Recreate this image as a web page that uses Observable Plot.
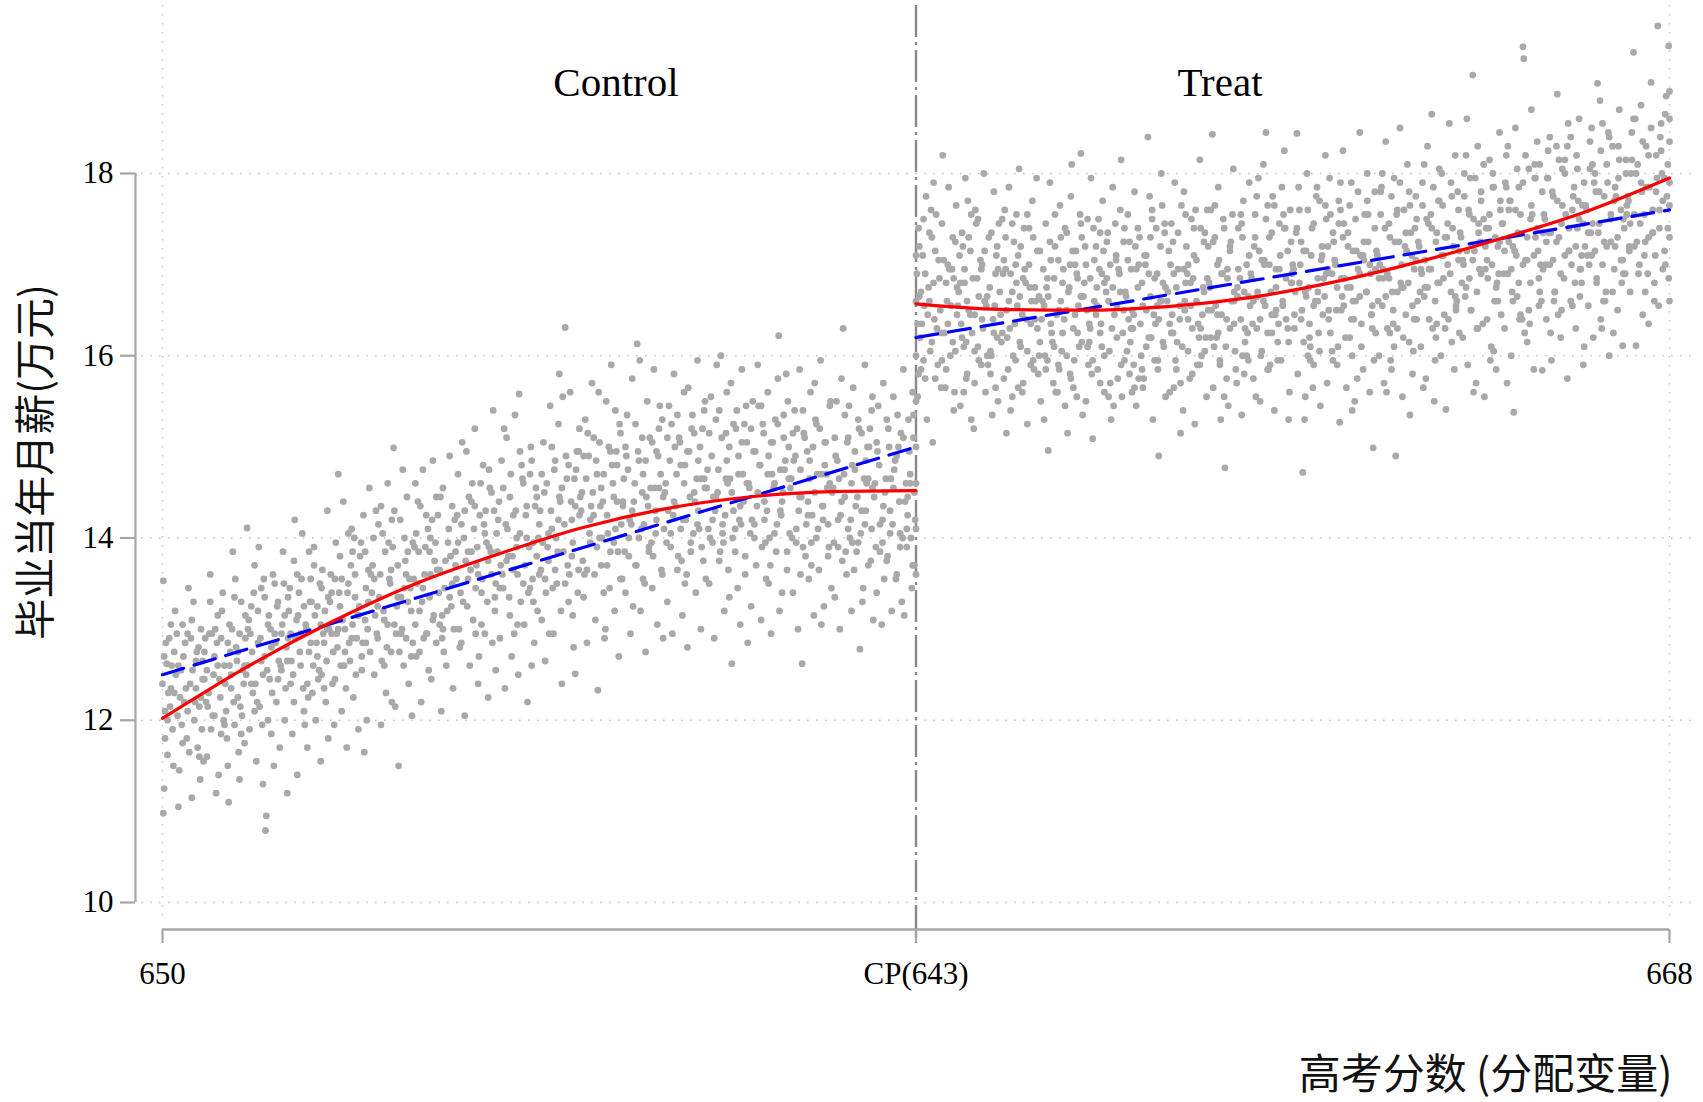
<!DOCTYPE html>
<html>
<head>
<meta charset="utf-8">
<script src="https://cdn.jsdelivr.net/npm/d3@7"></script>
<script src="https://cdn.jsdelivr.net/npm/@observablehq/plot@0.6"></script>
<style>
  html, body { margin: 0; padding: 0; background: #fff; }
  #chart { width: 1703px; height: 1102px; }
</style>
</head>
<body>
<div id="chart"></div>
<script>
// ---- data ----
const xTicks = [650, 659, 668];
const xTickLabels = ["650", "CP(643)", "668"];
const yTicks = [10, 12, 14, 16, 18];
const cutoff = 659;
const groupLabels = ["Control", "Treat"];
const yTitle = "毕业当年月薪(万元)";
const xTitle = "高考分数 (分配变量)";

// red cubic fit (score, salary)
const ctrlFitX = [650, 651, 652, 653, 654, 655, 656, 657, 658, 659];
const ctrlFitY = [12.02, 12.58, 13.07, 13.49, 13.82, 14.11, 14.32, 14.45, 14.51, 14.52];
const treatFitX = [659, 660, 661, 662, 663, 664, 665, 666, 667, 668];
const treatFitY = [16.57, 16.51, 16.5, 16.54, 16.64, 16.81, 17.03, 17.29, 17.58, 17.95];
// blue dashed linear fit
const ctrlLinX = [650, 659];
const ctrlLinY = [12.5, 15.0];
const treatLinX = [659, 668];
const treatLinY = [16.2, 17.6];

// scatter points, flat x,y pairs (outer spread)
const controlPts = [
650.01,13.53,650.01,10.98,650.02,11.25,650.03,12.1,650.05,12.62,650.06,11.62,650.08,12.9,650.1,12.35,650.12,11.9,650.14,12.75,650.15,13.2,650.18,12.05,650.2,11.45,650.22,12.55,650.24,13.05,650.26,12.2,650.29,11.8,650.3,12.95,650.33,12.4,650.35,11.15,650.37,13.3,650.4,12.65,650.42,11.7,650.44,12.15,650.46,13.0,650.48,12.45,650.49,11.55,650.27,12.85,650.16,12.5,650.38,12.0,650.07,12.3,650.45,11.35,650.31,13.45,650.19,11.05,650.41,12.75,
650.51,12.9,650.53,11.6,650.55,12.3,650.57,13.6,650.6,12.05,650.62,12.7,650.64,11.2,650.66,13.15,650.68,12.45,650.7,11.85,650.72,13.4,650.74,12.6,650.76,12.1,650.78,11.5,650.8,13.05,650.82,12.35,650.84,13.85,650.86,11.95,650.88,12.8,650.9,12.25,650.92,11.35,650.94,13.3,650.96,12.55,650.98,11.75,650.59,12.95,650.67,11.4,650.73,12.0,650.81,12.75,650.87,13.55,650.93,12.15,650.99,12.9,650.52,12.2,650.63,13.0,650.79,11.1,650.91,11.65,
651.01,14.11,651.02,12.6,651.04,11.9,651.06,13.25,651.08,12.3,651.1,13.7,651.12,11.55,651.14,12.85,651.16,12.15,651.18,13.45,651.2,11.3,651.22,12.7,651.23,10.79,651.24,10.95,651.26,13.05,651.28,12.45,651.3,11.85,651.32,13.6,651.34,12.95,651.36,12.2,651.38,13.3,651.4,11.7,651.42,12.55,651.44,13.85,651.46,12.0,651.48,12.8,651.05,12.95,651.11,12.4,651.19,11.95,651.27,13.15,651.33,11.5,651.39,12.65,651.45,13.5,651.49,11.2,651.15,13.9,
651.51,13.2,651.53,12.4,651.55,11.85,651.57,13.75,651.59,12.9,651.61,11.4,651.63,13.4,651.65,12.6,651.67,14.05,651.69,12.1,651.71,13.05,651.73,11.7,651.75,12.75,651.77,13.55,651.79,12.3,651.81,13.9,651.83,12.0,651.85,13.25,651.87,12.55,651.89,11.55,651.91,13.65,651.93,12.85,651.95,12.2,651.97,14.3,651.99,13.0,651.54,12.65,651.62,13.15,651.7,11.95,651.78,13.3,651.86,12.45,651.92,12.95,651.98,11.8,651.58,14.2,651.74,12.25,651.9,13.45,
652.01,13.6,652.03,12.4,652.05,11.95,652.07,13.95,652.09,12.8,652.1,14.7,652.12,13.25,652.14,12.1,652.16,14.4,652.18,13.0,652.2,11.7,652.22,13.5,652.24,12.65,652.26,14.1,652.28,12.25,652.3,13.35,652.32,12.9,652.34,11.9,652.36,13.8,652.38,12.55,652.4,14.25,652.42,13.1,652.44,12.0,652.46,13.65,652.48,12.75,652.02,12.95,652.11,13.4,652.19,12.35,652.27,13.85,652.33,13.15,652.41,11.65,652.47,14.55,652.13,12.6,652.29,14.0,652.43,12.85,
652.51,13.7,652.53,12.5,652.55,14.3,652.57,12.9,652.59,13.35,652.61,11.95,652.63,14.05,652.65,13.1,652.67,12.3,652.69,14.6,652.71,13.55,652.73,12.75,652.75,13.9,652.76,14.99,652.78,12.15,652.8,13.25,652.82,11.5,652.84,14.2,652.86,13.0,652.88,12.6,652.9,13.75,652.92,14.45,652.94,12.4,652.96,13.45,652.98,12.05,652.54,13.15,652.62,12.65,652.7,13.95,652.79,12.95,652.87,14.75,652.93,13.3,652.99,12.85,652.58,14.15,652.74,12.2,652.91,13.6,
653.01,13.9,653.03,12.7,653.05,14.4,653.07,13.2,653.09,12.2,653.11,14.75,653.13,13.6,653.15,12.95,653.17,14.1,653.19,13.35,653.21,12.45,653.23,14.85,653.25,13.75,653.27,12.85,653.29,14.25,653.31,13.05,653.33,12.1,653.35,14.55,653.37,13.45,653.39,12.6,653.41,13.95,653.43,14.9,653.45,13.25,653.47,12.35,653.49,14.2,653.04,13.5,653.12,12.9,653.2,14.0,653.28,13.65,653.36,12.75,653.44,13.8,653.02,14.6,653.18,12.55,653.34,13.15,653.46,14.35,
653.51,13.55,653.53,14.7,653.55,12.8,653.57,14.15,653.59,13.3,653.61,12.05,653.63,14.95,653.65,13.85,653.67,12.6,653.69,14.4,653.71,13.1,653.73,15.2,653.75,13.7,653.77,12.4,653.79,14.25,653.81,13.4,653.83,14.8,653.85,12.95,653.87,13.95,653.89,12.25,653.91,14.55,653.93,13.6,653.95,15.4,653.97,13.2,653.99,14.05,653.54,13.0,653.62,13.75,653.7,14.6,653.78,12.7,653.86,14.3,653.94,12.85,653.58,15.05,653.74,13.45,653.9,13.9,653.98,12.55,
654.01,14.2,654.03,12.9,654.05,14.85,654.07,13.45,654.09,12.35,654.11,15.1,654.13,13.8,654.15,14.45,654.17,12.7,654.19,13.65,654.21,15.35,654.23,14.0,654.25,12.5,654.26,15.58,654.28,13.3,654.3,14.65,654.32,13.05,654.34,14.25,654.36,12.2,654.38,13.9,654.4,15.0,654.42,13.55,654.44,12.85,654.46,14.55,654.48,13.2,654.04,13.7,654.12,14.1,654.2,12.95,654.29,14.8,654.37,13.4,654.45,14.35,654.08,15.2,654.24,13.6,654.41,12.6,654.49,14.0,
654.51,14.3,654.53,13.1,654.55,15.05,654.57,12.65,654.59,14.6,654.61,13.75,654.63,15.45,654.65,14.1,654.67,12.95,654.69,14.85,654.71,13.5,654.73,15.25,654.75,14.4,654.77,12.4,654.79,13.85,654.81,16.31,654.83,14.65,654.85,13.3,654.87,15.6,654.89,14.2,654.91,12.8,654.93,12.51,654.95,14.95,654.97,13.65,654.99,14.45,654.54,13.95,654.62,12.95,654.7,14.0,654.78,15.55,654.86,13.6,654.94,14.75,654.58,13.4,654.74,15.8,654.9,13.15,654.98,15.2,
655.01,14.5,655.03,13.35,655.05,15.3,655.07,12.85,655.09,14.9,655.11,13.95,655.13,15.7,655.15,14.25,655.17,13.1,655.19,14.7,655.2,12.33,655.22,15.05,655.24,13.7,655.26,14.4,655.28,12.9,655.3,15.5,655.32,14.05,655.34,13.45,655.36,15.9,655.38,14.6,655.4,13.2,655.42,14.95,655.44,13.85,655.46,15.25,655.48,14.15,655.04,13.6,655.12,14.35,655.21,15.6,655.29,13.0,655.37,14.8,655.45,12.7,655.08,15.15,655.25,14.0,655.41,15.4,655.49,13.55,
655.51,14.65,655.53,13.4,655.55,15.35,655.57,14.0,655.59,12.95,655.61,15.75,655.63,14.4,655.65,13.7,655.67,16.13,655.69,14.85,655.71,13.2,655.73,15.1,655.75,14.15,655.77,12.75,655.79,15.5,655.81,13.9,655.83,14.55,655.85,13.45,655.87,15.85,655.89,14.3,655.91,13.05,655.93,15.2,655.95,14.7,655.97,13.6,655.99,14.1,655.54,14.9,655.62,13.25,655.7,15.95,655.78,14.45,655.86,13.8,655.94,15.45,655.58,14.2,655.74,13.55,655.9,14.95,655.98,12.9,
656.01,14.6,656.03,13.3,656.05,15.45,656.07,14.05,656.09,12.95,656.11,15.8,656.13,14.35,656.15,13.65,656.17,15.1,656.19,14.8,656.21,13.15,656.23,15.6,656.25,14.2,656.27,12.8,656.29,14.95,656.31,13.85,656.33,15.35,656.35,14.5,656.37,13.4,656.39,15.95,656.41,14.1,656.43,13.0,656.45,15.2,656.47,14.65,656.49,13.55,656.04,14.3,656.12,15.0,656.2,13.75,656.28,15.65,656.36,14.4,656.44,13.9,656.08,15.25,656.24,13.5,656.4,14.85,656.48,15.5,
656.51,14.75,656.53,13.5,656.55,15.55,656.57,14.2,656.59,12.9,656.61,15.3,656.63,14.5,656.65,13.75,656.67,16.0,656.69,14.05,656.71,13.2,656.73,15.15,656.75,14.6,656.77,13.35,656.79,15.7,656.8,12.62,656.82,14.3,656.84,13.85,656.86,15.4,656.88,14.9,656.9,13.05,656.92,15.85,656.94,14.4,656.96,13.6,656.98,15.05,656.54,14.0,656.62,15.9,656.7,13.95,656.78,14.65,656.87,13.45,656.95,15.25,656.58,14.45,656.74,15.6,656.91,14.15,656.99,12.85,
657.01,14.55,657.03,13.25,657.05,15.5,657.07,14.15,657.09,13.7,657.11,15.9,657.13,14.8,657.15,13.1,657.17,15.25,657.19,14.4,657.21,13.55,657.23,15.6,657.25,14.0,657.27,12.95,657.29,15.05,657.31,14.6,657.33,13.85,657.35,15.75,657.36,16.22,657.38,14.3,657.4,13.4,657.42,15.35,657.44,14.85,657.46,13.65,657.48,15.0,657.04,14.2,657.12,15.45,657.2,13.95,657.28,14.7,657.37,13.2,657.45,15.8,657.08,14.95,657.24,13.5,657.41,14.5,657.49,14.05,
657.51,14.65,657.53,13.4,657.55,15.4,657.57,14.1,657.59,13.0,657.61,15.85,657.63,14.45,657.64,12.62,657.66,15.15,657.68,13.8,657.7,14.95,657.72,13.55,657.74,15.6,657.76,14.25,657.78,13.15,657.8,15.3,657.82,14.7,657.84,13.65,657.86,15.95,657.88,14.35,657.9,13.25,657.92,15.05,657.94,14.55,657.96,13.9,657.98,15.5,657.54,14.85,657.62,13.6,657.71,14.4,657.79,15.7,657.87,13.05,657.95,14.15,657.58,15.2,657.75,13.95,657.91,14.8,657.99,13.45,
658.01,14.55,658.03,13.35,658.05,15.5,658.07,14.2,658.09,13.0,658.11,15.75,658.13,16.3,658.15,14.45,658.17,13.6,658.19,15.1,658.21,14.0,658.23,13.2,658.25,15.65,658.27,14.75,658.29,13.85,658.31,15.3,658.33,12.78,658.35,14.3,658.37,13.45,658.39,15.9,658.41,14.6,658.43,13.7,658.45,15.2,658.47,14.1,658.49,13.1,658.04,14.9,658.12,13.75,658.2,15.45,658.28,14.35,658.36,13.3,658.44,15.0,658.08,14.65,658.24,13.95,658.4,14.85,658.48,15.55,
658.51,14.6,658.53,13.4,658.55,15.45,658.57,14.15,658.59,13.05,658.61,15.7,658.63,14.5,658.65,13.75,658.67,15.2,658.69,14.3,658.71,13.2,658.73,15.55,658.75,14.85,658.77,13.6,658.79,15.0,658.81,14.05,658.83,13.3,658.85,15.85,658.87,14.4,658.89,13.9,658.91,15.3,658.93,14.7,658.95,13.45,658.97,15.1,658.99,14.2,658.54,14.95,658.62,13.55,658.7,14.65,658.78,15.35,658.86,13.15,658.94,14.0,658.98,13.7,658.96,15.6,658.9,14.45,658.6,13.95
];

// denser core of the control cloud
const controlCore = [
650.0,12.4,650.03,11.8,650.04,12.85,650.09,12.15,650.11,12.6,650.13,11.5,650.17,12.95,650.21,12.25,650.23,11.95,650.25,12.7,650.28,12.35,650.32,11.65,650.34,12.9,650.36,12.55,650.39,12.2,650.43,12.8,650.47,11.9,650.5,12.45,650.02,12.7,650.06,12.0,650.1,13.05,650.14,12.3,650.19,12.6,650.24,11.75,650.3,12.1,650.35,13.1,650.4,12.35,650.44,11.6,650.48,12.65,650.46,12.25,
650.5,12.75,650.54,12.15,650.56,12.95,650.58,11.9,650.61,12.5,650.65,12.85,650.69,12.25,650.71,13.2,650.75,12.4,650.77,11.8,650.8,12.6,650.83,13.0,650.85,12.2,650.89,12.65,650.92,12.95,650.95,12.05,650.97,12.4,650.99,13.15,650.53,12.55,650.57,13.3,650.62,12.05,650.66,12.6,650.7,12.9,650.74,11.95,650.78,12.85,650.82,12.5,650.86,13.35,650.9,12.75,650.94,11.85,650.98,12.6,
651.0,12.5,651.03,13.1,651.07,12.75,651.09,13.4,651.13,12.2,651.17,12.9,651.21,13.55,651.25,12.55,651.29,13.0,651.31,12.3,651.35,12.85,651.37,13.25,651.41,12.6,651.43,13.05,651.47,12.35,651.5,13.35,651.02,13.0,651.06,12.4,651.1,12.1,651.14,13.2,651.18,12.65,651.22,13.35,651.26,12.0,651.3,12.8,651.34,13.5,651.38,12.45,651.42,12.95,651.46,13.15,651.49,12.65,651.2,12.5,
651.5,12.9,651.52,13.45,651.56,12.5,651.6,13.1,651.64,12.75,651.66,13.55,651.68,12.35,651.72,13.0,651.76,13.3,651.8,12.6,651.82,13.15,651.84,12.85,651.88,13.5,651.9,12.5,651.94,13.2,651.96,12.65,651.98,13.35,651.53,12.95,651.57,12.2,651.61,13.6,651.65,12.95,651.69,13.25,651.73,12.4,651.77,12.85,651.81,13.7,651.85,12.7,651.89,13.05,651.93,12.35,651.97,13.0,651.75,13.85,
652.0,13.3,652.04,12.75,652.06,13.55,652.08,12.95,652.12,13.8,652.15,13.1,652.17,12.6,652.21,13.4,652.23,12.85,652.25,13.7,652.27,13.05,652.31,12.5,652.35,13.25,652.37,13.95,652.39,12.85,652.43,13.45,652.45,13.0,652.49,13.6,652.02,13.4,652.06,12.45,652.1,13.0,652.14,13.55,652.18,12.75,652.22,14.05,652.26,12.9,652.3,13.6,652.34,13.15,652.38,12.7,652.42,13.85,652.46,13.3,
652.5,13.4,652.52,14.0,652.56,12.95,652.6,13.6,652.64,13.2,652.66,13.85,652.68,12.8,652.72,13.5,652.74,14.2,652.77,13.05,652.81,13.7,652.83,12.75,652.85,13.35,652.89,14.0,652.91,12.9,652.95,13.55,652.97,13.2,652.99,13.95,652.53,13.55,652.57,13.25,652.61,14.35,652.65,12.6,652.69,13.05,652.73,13.65,652.77,14.3,652.81,13.35,652.85,12.95,652.89,13.45,652.93,13.85,652.97,12.7,
653.0,13.55,653.02,13.05,653.06,13.85,653.08,14.35,653.1,13.3,653.14,13.9,653.16,12.95,653.2,13.6,653.22,14.2,653.24,13.15,653.26,13.95,653.3,13.4,653.32,14.45,653.34,12.9,653.38,13.75,653.4,13.2,653.42,14.1,653.46,13.5,653.48,13.0,653.5,13.85,653.03,14.05,653.07,12.75,653.11,13.45,653.15,14.25,653.19,13.85,653.23,13.1,653.27,14.45,653.31,13.65,653.35,13.0,653.43,13.35,
653.5,13.7,653.52,14.25,653.56,13.4,653.6,14.0,653.64,13.25,653.66,14.45,653.68,13.65,653.72,14.1,653.74,12.95,653.76,13.9,653.8,14.6,653.82,13.55,653.84,14.15,653.88,13.3,653.9,14.75,653.92,13.85,653.96,14.3,653.98,13.5,653.53,13.95,653.57,12.85,653.61,14.3,653.65,13.55,653.69,13.85,653.73,14.35,653.77,13.6,653.81,13.05,653.85,14.05,653.89,13.75,653.93,14.5,653.97,13.35,
654.0,13.85,654.02,14.4,654.06,13.6,654.1,14.15,654.14,13.35,654.16,14.7,654.18,13.8,654.22,14.3,654.24,13.05,654.27,14.05,654.31,14.6,654.33,13.7,654.35,14.35,654.39,13.45,654.41,14.85,654.43,13.95,654.47,14.45,654.5,13.6,654.03,13.45,654.07,14.55,654.11,13.75,654.15,13.15,654.19,14.25,654.23,13.9,654.27,14.95,654.31,13.5,654.35,14.0,654.39,14.7,654.43,13.3,654.47,13.8,
654.5,14.15,654.52,13.65,654.56,14.5,654.6,13.9,654.64,14.3,654.66,13.45,654.68,14.75,654.72,13.85,654.74,14.45,654.76,13.2,654.8,14.15,654.82,14.9,654.84,13.7,654.88,14.4,654.9,13.95,654.92,14.65,654.96,13.4,654.98,14.25,654.53,14.7,654.57,13.55,654.61,14.05,654.65,15.0,654.69,13.65,654.73,14.2,654.77,14.55,654.81,13.5,654.85,14.8,654.89,13.8,654.93,14.35,654.97,14.95,
655.0,14.3,655.02,13.75,655.06,14.65,655.1,14.05,655.14,14.5,655.16,13.6,655.18,14.85,655.22,14.0,655.24,14.55,655.27,13.4,655.31,14.25,655.33,15.0,655.35,13.85,655.39,14.45,655.41,14.1,655.43,14.8,655.47,13.55,655.5,14.35,655.03,14.9,655.07,13.65,655.11,14.2,655.15,15.1,655.19,13.9,655.23,14.35,655.27,14.7,655.31,13.7,655.35,14.95,655.39,13.95,655.43,14.4,655.47,15.15,
655.5,14.4,655.52,13.85,655.56,14.75,655.6,14.15,655.64,14.6,655.66,13.7,655.68,14.95,655.72,14.1,655.74,14.7,655.76,13.5,655.8,14.35,655.82,15.1,655.84,13.95,655.88,14.55,655.9,14.2,655.92,14.9,655.96,13.65,655.98,14.45,655.53,15.0,655.57,13.8,655.61,14.3,655.65,15.25,655.69,14.0,655.73,14.5,655.77,14.85,655.81,13.85,655.85,15.05,655.89,14.05,655.93,14.55,655.97,15.3,
656.0,14.5,656.02,13.95,656.06,14.85,656.1,14.25,656.14,14.7,656.16,13.8,656.18,15.05,656.22,14.2,656.24,14.8,656.26,13.6,656.3,14.45,656.32,15.2,656.34,14.05,656.38,14.65,656.4,14.3,656.42,15.0,656.46,13.75,656.48,14.55,656.03,15.1,656.07,13.9,656.11,14.4,656.15,15.35,656.19,14.1,656.23,14.6,656.27,14.95,656.31,13.95,656.35,15.15,656.39,14.15,656.43,14.65,656.47,15.4,
656.5,14.55,656.52,14.1,656.56,14.9,656.6,14.3,656.64,14.75,656.66,13.85,656.68,15.1,656.72,14.25,656.74,14.85,656.76,13.65,656.8,14.5,656.82,15.25,656.84,14.1,656.88,14.7,656.9,14.35,656.92,15.05,656.96,13.8,656.98,14.6,656.53,15.15,656.57,13.95,656.61,14.45,656.65,15.4,656.69,14.15,656.73,14.65,656.77,15.0,656.81,14.0,656.85,15.2,656.89,14.2,656.93,14.7,656.97,15.45,
657.0,14.6,657.02,14.05,657.06,14.95,657.1,14.35,657.14,14.8,657.16,13.9,657.18,15.15,657.22,14.3,657.24,14.9,657.26,13.7,657.3,14.55,657.32,15.3,657.34,14.15,657.38,14.75,657.4,14.4,657.42,15.1,657.46,13.85,657.48,14.65,657.03,15.2,657.07,14.0,657.11,14.5,657.15,15.45,657.19,14.2,657.23,14.7,657.27,15.05,657.31,14.05,657.35,15.25,657.39,14.25,657.43,14.75,657.47,15.5,
657.5,14.55,657.52,14.0,657.56,14.9,657.6,14.3,657.62,14.75,657.65,13.9,657.67,15.1,657.71,14.25,657.73,14.85,657.75,13.7,657.79,14.5,657.81,15.25,657.83,14.1,657.87,14.7,657.89,14.35,657.91,15.05,657.95,13.8,657.97,14.6,657.53,15.15,657.57,13.95,657.61,14.45,657.65,15.4,657.69,14.15,657.73,14.65,657.77,15.0,657.81,14.0,657.85,15.2,657.89,14.2,657.93,14.7,657.97,15.45,
658.0,14.5,658.02,13.95,658.06,14.85,658.1,14.25,658.14,14.7,658.16,13.85,658.18,15.05,658.22,14.2,658.24,14.8,658.26,13.65,658.3,14.45,658.32,15.2,658.34,14.05,658.38,14.65,658.4,14.3,658.42,15.0,658.46,13.75,658.48,14.55,658.03,15.1,658.07,13.9,658.11,14.4,658.15,15.35,658.19,14.1,658.23,14.6,658.27,14.95,658.31,13.95,658.35,15.15,658.39,14.15,658.43,14.65,658.47,15.4,
658.5,14.45,658.52,13.9,658.56,14.8,658.6,14.2,658.64,14.65,658.66,13.8,658.68,15.0,658.72,14.15,658.74,14.75,658.76,13.55,658.8,14.4,658.82,15.15,658.84,14.0,658.88,14.6,658.9,14.25,658.92,14.95,658.96,13.7,658.98,14.5,658.53,15.05,658.57,13.85,658.61,14.35,658.65,15.3,658.69,14.05,658.73,14.55,658.77,14.9,658.81,13.9,658.85,15.1,658.89,14.1,658.93,14.6,658.97,15.35,659.0,14.1,659.0,13.6,659.0,15.0,659.0,14.6
];

const treatPts = [
659.01,16.9,659.02,15.55,659.03,17.4,659.05,16.2,659.06,15.85,659.08,17.1,659.1,16.55,659.12,17.75,659.13,15.3,659.15,16.75,659.17,16.05,659.19,17.3,659.2,15.05,659.22,16.4,659.24,17.55,659.26,15.9,659.28,16.85,659.3,16.25,659.32,18.2,659.33,17.05,659.35,15.65,659.37,16.6,659.39,17.85,659.41,16.0,659.43,16.95,659.45,15.4,659.47,17.25,659.49,16.45,659.04,16.65,659.11,15.75,659.18,17.6,659.25,16.3,659.31,15.95,659.38,17.0,659.44,16.15,659.48,17.65,659.07,16.35,659.21,17.9,659.36,16.8,659.46,15.6,
659.51,16.7,659.53,15.45,659.55,17.35,659.57,16.1,659.59,17.95,659.61,15.8,659.63,16.5,659.65,17.15,659.67,16.25,659.69,15.2,659.71,17.6,659.73,16.85,659.75,15.95,659.77,17.05,659.79,16.4,659.81,18.0,659.83,15.6,659.85,16.65,659.87,17.3,659.89,16.05,659.91,15.35,659.93,17.8,659.95,16.9,659.97,16.2,659.99,17.45,659.54,16.35,659.62,17.7,659.7,15.7,659.78,16.95,659.86,15.9,659.94,16.55,659.58,16.8,659.74,17.5,659.9,16.0,659.98,15.5,659.56,17.2,659.66,15.3,659.82,16.6,659.96,17.1,659.6,16.15,
660.01,16.45,660.03,17.5,660.05,15.75,660.07,16.95,660.09,16.2,660.11,17.85,660.13,15.4,660.15,16.7,660.17,17.25,660.19,15.95,660.21,16.55,660.23,18.05,660.25,16.1,660.27,15.6,660.29,17.4,660.31,16.8,660.33,15.25,660.35,17.0,660.37,16.35,660.39,17.7,660.41,15.85,660.43,16.6,660.45,17.15,660.47,16.0,660.49,15.5,660.04,16.9,660.12,16.3,660.2,17.55,660.28,15.7,660.36,16.75,660.44,17.95,660.08,15.15,660.24,16.65,660.4,17.3,660.48,16.15,660.06,17.6,660.16,16.0,660.32,16.4,660.46,15.8,660.22,17.1,
660.51,16.6,660.53,15.3,660.55,17.45,660.57,16.85,660.58,14.96,660.6,17.9,660.62,16.25,660.64,15.7,660.66,17.2,660.68,16.45,660.7,15.9,660.72,17.65,660.74,16.05,660.76,16.95,660.78,15.45,660.8,17.35,660.82,16.7,660.84,15.8,660.86,18.1,660.88,16.3,660.9,17.0,660.92,15.55,660.94,16.55,660.96,17.55,660.98,16.15,660.54,16.0,660.61,17.05,660.69,15.6,660.77,16.4,660.85,17.75,660.93,16.85,660.99,15.35,660.56,16.75,660.73,17.3,660.89,15.95,660.97,16.65,660.65,16.1,660.81,15.15,660.91,17.15,660.71,16.5,660.97,18.22,
661.01,16.8,661.03,15.5,661.05,17.5,661.07,16.15,661.09,17.95,661.11,15.09,661.13,16.6,661.15,17.2,661.17,15.85,661.19,16.95,661.21,16.35,661.23,17.7,661.25,15.6,661.27,16.7,661.29,17.35,661.31,16.05,661.33,15.3,661.35,17.85,661.37,16.45,661.39,17.05,661.41,15.75,661.43,16.9,661.45,18.15,661.47,16.25,661.49,15.95,661.04,16.5,661.12,17.4,661.2,15.7,661.28,16.85,661.36,15.45,661.44,17.6,661.08,16.3,661.24,17.15,661.4,16.55,661.48,17.25,661.06,15.9,661.16,16.75,661.32,17.0,661.46,15.55,661.22,16.1,
661.51,16.65,661.53,17.55,661.55,15.8,661.57,16.95,661.59,16.3,661.61,17.8,661.63,15.45,661.65,16.75,661.67,17.3,661.69,16.0,661.71,15.65,661.73,17.1,661.75,16.5,661.77,18.4,661.79,17.75,661.81,16.2,661.83,15.3,661.85,16.85,661.87,17.4,661.89,15.95,661.9,14.9,661.92,16.6,661.94,17.65,661.96,16.1,661.98,15.55,661.54,16.4,661.62,17.2,661.7,15.85,661.78,16.9,661.86,16.35,661.93,18.0,661.58,15.6,661.74,17.0,661.88,16.55,661.97,17.35,661.56,16.15,661.66,15.75,661.82,17.6,661.95,16.8,661.6,16.45,
662.01,16.7,662.03,15.6,662.05,17.45,662.07,16.25,662.09,17.9,662.11,15.85,662.13,16.95,662.15,16.4,662.17,17.65,662.19,15.4,662.21,16.6,662.23,17.2,662.25,16.05,662.27,15.75,662.29,17.5,662.31,16.85,662.33,15.25,662.35,17.05,662.37,16.35,662.39,18.15,662.41,16.0,662.43,16.75,662.45,17.35,662.47,15.55,662.49,16.5,662.04,17.0,662.12,16.15,662.2,17.8,662.28,16.55,662.36,15.9,662.44,17.25,662.08,15.65,662.24,16.9,662.4,16.3,662.48,17.6,662.06,16.45,662.16,15.15,662.32,17.4,662.46,16.2,662.22,16.8,
662.51,16.75,662.54,18.43,662.55,15.65,662.57,17.3,662.59,16.2,662.61,17.85,662.63,15.9,662.65,16.9,662.67,17.5,662.69,14.77,662.71,16.4,662.73,15.45,662.75,17.15,662.77,16.6,662.79,18.05,662.81,16.05,662.83,15.7,662.85,17.4,662.87,16.85,662.89,15.35,662.91,17.7,662.93,16.3,662.95,17.0,662.97,15.95,662.99,16.55,662.52,17.6,662.6,16.45,662.68,15.55,662.76,17.25,662.84,16.65,662.92,15.8,662.98,17.9,662.56,16.1,662.72,16.95,662.88,17.55,662.96,16.25,662.64,15.3,662.8,16.7,662.9,16.0,662.62,17.05,
663.01,16.85,663.03,15.75,663.05,17.55,663.07,16.3,663.09,17.95,663.11,15.5,663.13,17.05,663.15,18.1,663.17,16.55,663.18,18.45,663.2,15.85,663.22,17.3,663.24,16.7,663.26,17.75,663.28,15.4,663.3,16.95,663.32,16.15,663.34,17.45,663.36,15.95,663.38,16.6,663.4,18.25,663.42,16.4,663.44,17.15,663.46,15.6,663.48,16.8,663.04,17.2,663.12,16.0,663.2,17.65,663.29,16.45,663.37,17.85,663.45,15.3,663.08,16.65,663.25,16.25,663.41,17.4,663.49,16.9,663.06,15.55,663.16,17.0,663.33,16.35,663.47,17.6,663.23,15.9,
663.51,16.95,663.55,18.44,663.56,15.8,663.58,17.6,663.6,16.4,663.62,14.72,663.63,17.15,663.65,15.55,663.67,18.0,663.69,16.75,663.71,16.1,663.73,17.4,663.75,15.9,663.77,16.6,663.79,17.85,663.81,16.25,663.83,15.45,663.85,17.1,663.87,16.85,663.89,18.2,663.91,15.7,663.93,16.5,663.95,17.55,663.97,16.05,663.99,17.25,663.52,16.3,663.59,17.0,663.66,16.65,663.74,15.65,663.82,17.7,663.9,16.9,663.98,15.95,663.54,17.35,663.7,16.2,663.86,16.45,663.94,17.95,663.64,15.3,663.8,16.7,663.92,17.2,663.68,16.0,
664.01,17.0,664.03,15.9,664.05,17.7,664.06,15.27,664.08,16.5,664.1,18.25,664.12,16.85,664.14,15.65,664.16,17.35,664.18,16.2,664.2,17.9,664.22,16.6,664.24,15.5,664.26,17.15,664.28,16.95,664.3,18.45,664.32,16.35,664.34,15.85,664.36,17.55,664.38,16.7,664.4,17.25,664.42,15.6,664.44,16.45,664.46,14.99,664.48,17.8,664.04,16.1,664.11,17.45,664.19,16.75,664.27,15.75,664.35,17.05,664.43,16.9,664.49,16.25,664.07,17.6,664.23,16.4,664.39,18.0,664.47,15.95,664.09,16.65,664.21,15.4,664.31,17.1,664.45,16.55,
664.51,17.1,664.53,16.0,664.55,17.8,664.57,16.55,664.59,15.7,664.61,18.35,664.63,16.9,664.65,17.45,664.67,15.95,664.69,16.7,664.71,17.95,664.73,14.9,664.75,16.3,664.77,17.25,664.79,16.8,664.81,15.55,664.83,17.6,664.85,16.45,664.87,18.1,664.89,16.15,664.91,17.35,664.93,15.8,664.95,16.95,664.97,17.75,664.99,16.6,664.54,17.0,664.62,15.6,664.7,16.35,664.78,18.5,664.86,17.15,664.94,16.05,664.58,16.85,664.74,17.55,664.9,15.35,664.98,16.4,664.56,17.85,664.66,16.25,664.82,16.75,664.96,17.4,664.68,15.85,
665.01,17.2,665.03,16.1,665.05,17.9,665.07,16.65,665.09,15.75,665.11,18.3,665.13,16.95,665.15,17.55,665.17,16.3,665.19,15.5,665.21,17.25,665.23,16.8,665.25,18.05,665.27,16.0,665.29,17.65,665.31,16.45,665.33,15.41,665.35,17.0,665.37,18.55,665.39,16.7,665.41,17.4,665.43,15.85,665.45,16.55,665.47,17.8,665.49,16.25,665.04,16.9,665.12,17.45,665.2,15.95,665.28,17.1,665.36,16.4,665.44,18.2,665.08,16.75,665.24,17.7,665.4,16.15,665.48,17.05,665.06,15.65,665.16,18.65,665.32,17.3,665.46,16.6,665.22,16.35,
665.51,17.3,665.53,16.2,665.55,18.0,665.57,16.75,665.59,15.9,665.61,17.55,665.63,16.5,665.65,19.08,665.67,17.15,665.69,15.7,665.71,18.3,665.73,16.95,665.75,17.7,665.77,16.35,665.79,15.55,665.81,17.4,665.83,16.85,665.85,18.15,665.87,16.1,665.89,17.85,665.91,16.6,665.93,15.85,665.95,17.2,665.97,18.45,665.99,16.45,665.54,17.0,665.62,17.95,665.7,16.3,665.78,17.5,665.86,15.95,665.94,16.8,665.58,18.6,665.74,17.25,665.9,16.05,665.98,17.6,665.56,16.65,665.66,15.6,665.82,17.05,665.96,16.9,665.72,17.35,
666.01,17.45,666.03,16.3,666.05,18.2,666.07,16.9,666.09,17.7,666.11,16.0,666.13,17.2,666.14,15.38,666.16,18.5,666.18,16.65,666.2,17.85,666.22,16.45,666.25,19.39,666.26,19.26,666.28,17.05,666.3,16.15,666.32,18.05,666.34,16.8,666.36,17.55,666.38,15.85,666.4,17.3,666.42,18.35,666.44,16.55,666.46,17.0,666.48,15.84,666.04,17.9,666.12,16.7,666.19,17.35,666.27,16.25,666.35,18.7,666.43,17.15,666.49,16.95,666.08,17.6,666.24,16.4,666.39,17.95,666.47,16.6,666.06,15.7,666.17,17.1,666.33,16.35,666.45,18.1,
666.51,17.5,666.53,16.4,666.55,18.25,666.57,17.0,666.59,15.95,666.61,17.75,666.63,16.7,666.66,18.87,666.68,17.3,666.7,16.2,666.72,18.05,666.74,16.85,666.76,17.55,666.78,15.75,666.8,17.15,666.82,18.4,666.84,16.55,666.86,17.85,666.88,16.3,666.9,17.4,666.92,18.6,666.94,16.95,666.96,17.65,666.98,16.1,666.99,17.2,666.54,17.95,666.62,16.6,666.71,17.45,666.79,18.55,666.87,16.8,666.95,17.1,666.58,16.25,666.75,18.15,666.91,17.7,666.97,15.9,666.56,17.35,666.67,16.45,666.83,17.0,666.93,16.65,666.65,18.3,
667.01,17.6,667.03,16.55,667.05,18.35,667.07,17.1,667.09,16.2,667.11,18.0,667.13,16.85,667.14,18.99,667.16,17.45,667.18,16.4,667.2,18.55,667.22,17.25,667.24,16.7,667.26,17.9,667.28,16.0,667.3,17.55,667.32,18.3,667.34,16.95,667.36,17.75,667.38,16.5,667.4,18.7,667.42,17.05,667.44,16.11,667.46,17.4,667.48,18.15,667.04,17.0,667.12,17.8,667.19,16.3,667.27,18.45,667.35,17.2,667.43,16.8,667.49,17.65,667.08,18.1,667.23,16.6,667.39,17.95,667.47,16.9,667.06,17.35,667.17,18.8,667.33,16.25,667.45,17.5,
667.51,17.7,667.53,16.7,667.55,18.45,667.57,19.33,667.58,17.2,667.6,16.11,667.62,18.1,667.64,17.0,667.66,18.75,667.68,16.45,667.7,17.55,667.72,18.3,667.74,16.9,667.76,17.85,667.78,19.0,667.8,17.35,667.82,16.6,667.84,18.2,667.86,19.62,667.88,17.6,667.9,18.55,667.92,16.95,667.94,17.95,667.96,18.85,667.98,17.4,667.99,19.4,668.0,18.35,667.99,16.85,667.52,17.15,667.59,18.6,667.67,17.8,667.75,16.35,667.83,17.1,667.91,18.0,667.97,17.75,667.54,18.0,667.71,17.25,667.87,16.55,667.95,18.65,668.0,17.65
];

// denser core of the treated cloud
const treatCore = [
659.0,16.6,659.0,16.0,659.0,17.1,659.0,15.5,659.02,16.35,659.04,17.2,659.06,16.7,659.09,15.95,659.11,16.9,659.14,16.45,659.16,17.35,659.19,16.15,659.21,16.8,659.23,15.75,659.27,17.05,659.29,16.5,659.31,17.45,659.34,16.25,659.36,15.85,659.4,16.95,659.42,16.55,659.44,17.3,659.47,16.05,659.49,16.75,659.03,15.8,659.09,17.5,659.16,16.6,659.23,17.15,659.3,15.65,659.38,16.35,659.45,16.85,
659.5,16.55,659.52,17.1,659.55,16.2,659.58,16.95,659.6,15.75,659.63,17.3,659.65,16.45,659.68,16.85,659.7,16.05,659.72,17.45,659.75,16.65,659.78,15.9,659.8,16.3,659.82,17.15,659.85,16.0,659.88,16.75,659.9,17.35,659.92,16.4,659.95,15.65,659.98,16.95,659.53,16.8,659.57,15.6,659.61,16.6,659.66,17.55,659.7,16.45,659.74,16.1,659.79,17.0,659.84,16.55,659.89,15.8,659.93,16.25,659.97,17.2,
660.0,16.7,660.02,16.15,660.05,17.05,660.08,16.5,660.1,15.85,660.13,16.9,660.15,17.45,660.18,16.35,660.2,16.8,660.22,15.65,660.25,17.2,660.27,16.45,660.3,16.95,660.33,16.05,660.35,17.4,660.38,16.6,660.4,15.95,660.42,16.75,660.45,16.3,660.48,17.15,660.03,16.25,660.07,17.3,660.11,16.6,660.15,15.55,660.19,17.0,660.24,16.15,660.28,16.85,660.33,17.55,660.37,15.9,660.42,16.4,660.47,16.65,
660.5,16.4,660.52,16.95,660.55,15.85,660.58,16.65,660.6,17.25,660.63,16.15,660.65,16.85,660.67,15.6,660.7,17.05,660.73,16.6,660.75,16.25,660.78,17.4,660.8,16.0,660.83,16.75,660.85,15.75,660.87,17.15,660.9,16.45,660.92,16.9,660.95,16.1,660.98,17.3,660.53,16.55,660.57,15.95,660.61,16.35,660.66,17.55,660.71,15.85,660.75,16.8,660.8,16.5,660.84,17.0,660.88,15.65,660.93,16.25,660.97,17.45,
661.0,16.65,661.02,17.2,661.05,16.1,661.08,16.85,661.1,15.8,661.13,17.05,661.15,16.45,661.18,17.5,661.2,16.25,661.22,16.9,661.25,16.0,661.28,17.25,661.3,16.6,661.32,15.7,661.35,16.75,661.38,17.45,661.4,16.2,661.42,16.95,661.45,15.9,661.48,16.5,661.03,17.0,661.07,16.35,661.11,15.95,661.16,16.55,661.2,17.35,661.25,16.8,661.3,15.55,661.34,16.3,661.39,17.1,661.44,16.7,661.49,17.4,
661.5,16.7,661.52,16.05,661.55,17.25,661.58,16.5,661.6,15.9,661.63,16.95,661.65,17.4,661.68,16.35,661.7,16.8,661.72,15.75,661.75,17.1,661.78,16.2,661.8,16.65,661.82,17.5,661.85,15.95,661.88,16.9,661.9,16.4,661.92,17.2,661.95,16.15,661.98,16.75,661.53,17.05,661.57,16.3,661.61,15.65,661.66,17.0,661.71,16.55,661.75,16.1,661.8,17.3,661.84,16.45,661.89,15.85,661.93,16.6,661.97,17.45,
662.0,16.6,662.02,17.15,662.05,16.25,662.08,16.9,662.1,15.95,662.13,17.35,662.15,16.55,662.18,16.1,662.2,16.95,662.22,17.55,662.25,16.4,662.28,16.8,662.3,15.8,662.32,17.1,662.35,16.6,662.38,16.2,662.4,17.4,662.42,16.45,662.45,16.05,662.48,16.85,662.03,16.35,662.07,17.25,662.11,16.75,662.16,15.7,662.21,16.5,662.25,17.0,662.3,16.3,662.34,17.6,662.39,15.9,662.44,16.7,662.49,17.2,
662.5,16.8,662.52,16.2,662.55,17.25,662.58,16.55,662.6,17.0,662.63,15.95,662.65,16.45,662.68,17.4,662.7,16.1,662.72,16.85,662.75,16.3,662.78,17.55,662.8,16.6,662.82,15.85,662.85,16.95,662.88,16.4,662.9,17.3,662.92,16.7,662.95,16.0,662.98,17.1,662.53,16.5,662.57,17.65,662.61,16.25,662.66,16.9,662.71,15.75,662.75,17.2,662.8,16.35,662.84,16.75,662.89,17.45,662.93,16.15,662.97,16.65,
663.0,16.9,663.02,16.35,663.05,17.3,663.08,16.7,663.1,17.15,663.13,16.05,663.15,16.6,663.18,17.5,663.2,16.25,663.22,17.0,663.25,16.45,663.28,17.65,663.3,16.75,663.32,15.95,663.35,17.1,663.38,16.55,663.4,17.4,663.42,16.85,663.45,16.15,663.48,17.25,663.03,16.6,663.07,17.75,663.11,16.4,663.16,17.05,663.21,15.85,663.25,17.35,663.3,16.5,663.34,16.95,663.39,17.55,663.44,16.3,663.49,16.8,
663.5,17.0,663.52,16.45,663.55,17.4,663.58,16.8,663.6,17.25,663.63,16.15,663.65,16.7,663.68,17.6,663.7,16.35,663.72,17.1,663.75,16.55,663.78,17.75,663.8,16.85,663.82,16.05,663.85,17.2,663.88,16.65,663.9,17.5,663.92,16.95,663.95,16.25,663.98,17.35,663.53,16.7,663.57,17.85,663.61,16.5,663.66,17.15,663.71,15.95,663.75,17.45,663.8,16.6,663.84,17.05,663.89,17.65,663.93,16.4,663.97,16.9,
664.0,17.05,664.02,16.5,664.05,17.45,664.08,16.85,664.1,17.3,664.13,16.2,664.15,16.75,664.18,17.65,664.2,16.4,664.22,17.15,664.25,16.6,664.28,17.8,664.3,16.9,664.32,16.1,664.35,17.25,664.38,16.7,664.4,17.55,664.42,17.0,664.45,16.3,664.48,17.4,664.03,16.75,664.07,17.9,664.11,16.55,664.16,17.2,664.21,16.0,664.25,17.5,664.3,16.65,664.34,17.1,664.39,17.7,664.44,16.45,664.49,16.95,
664.5,17.15,664.52,16.6,664.55,17.55,664.58,16.95,664.6,17.4,664.63,16.3,664.65,16.85,664.68,17.75,664.7,16.5,664.72,17.25,664.75,16.7,664.78,17.9,664.8,17.0,664.82,16.2,664.85,17.35,664.88,16.8,664.9,17.65,664.92,17.1,664.95,16.4,664.98,17.5,664.53,16.85,664.57,18.0,664.61,16.65,664.66,17.3,664.71,16.1,664.75,17.6,664.8,16.75,664.84,17.2,664.89,17.8,664.93,16.55,664.97,17.05,
665.0,17.25,665.02,16.7,665.05,17.65,665.08,17.05,665.1,17.5,665.13,16.4,665.15,16.95,665.18,17.85,665.2,16.6,665.22,17.35,665.25,16.8,665.28,18.0,665.3,17.1,665.32,16.3,665.35,17.45,665.38,16.9,665.4,17.75,665.42,17.2,665.45,16.5,665.48,17.6,665.03,16.95,665.07,18.1,665.11,16.75,665.16,17.4,665.21,16.2,665.25,17.7,665.3,16.85,665.34,17.3,665.39,17.9,665.44,16.65,665.49,17.15,
665.5,17.35,665.52,16.8,665.55,17.75,665.58,17.15,665.6,17.6,665.63,16.5,665.65,17.05,665.68,17.95,665.7,16.7,665.72,17.45,665.75,16.9,665.78,18.1,665.8,17.2,665.82,16.4,665.85,17.55,665.88,17.0,665.9,17.85,665.92,17.3,665.95,16.6,665.98,17.7,665.53,17.05,665.57,18.2,665.61,16.85,665.66,17.5,665.71,16.3,665.75,17.8,665.8,16.95,665.84,17.4,665.89,18.0,665.93,16.75,665.97,17.25,
666.0,17.45,666.02,16.9,666.05,17.85,666.08,17.25,666.1,17.7,666.13,16.6,666.15,17.15,666.18,18.05,666.2,16.8,666.22,17.55,666.25,17.0,666.28,18.2,666.3,17.3,666.32,16.5,666.35,17.65,666.38,17.1,666.4,17.95,666.42,17.4,666.45,16.7,666.48,17.8,666.03,17.15,666.07,18.3,666.11,16.95,666.16,17.6,666.21,16.4,666.25,17.9,666.3,17.05,666.34,17.5,666.39,18.1,666.44,16.85,666.49,17.35,
666.5,17.55,666.52,17.0,666.55,17.95,666.58,17.35,666.6,17.8,666.63,16.7,666.65,17.25,666.68,18.15,666.7,16.9,666.72,17.65,666.75,17.1,666.78,18.3,666.8,17.4,666.82,16.6,666.85,17.75,666.88,17.2,666.9,18.05,666.92,17.5,666.95,16.8,666.98,17.9,666.53,17.25,666.57,18.4,666.61,17.05,666.66,17.7,666.71,16.5,666.75,18.0,666.8,17.15,666.84,17.6,666.89,18.2,666.93,16.95,666.97,17.45,
667.0,17.65,667.02,17.1,667.05,18.05,667.08,17.45,667.1,17.9,667.13,16.8,667.15,17.35,667.18,18.25,667.2,17.0,667.22,17.75,667.25,17.2,667.28,18.4,667.3,17.5,667.32,16.7,667.35,17.85,667.38,17.3,667.4,18.15,667.42,17.6,667.45,16.9,667.48,18.0,667.03,17.35,667.07,18.5,667.11,17.15,667.16,17.8,667.21,16.6,667.25,18.1,667.3,17.25,667.34,17.7,667.39,18.3,667.44,17.05,667.49,17.55,
667.5,17.75,667.52,17.2,667.55,18.15,667.58,17.55,667.6,18.0,667.63,16.9,667.65,17.45,667.68,18.35,667.7,17.1,667.72,17.85,667.75,17.3,667.78,18.5,667.8,17.6,667.82,16.8,667.85,17.95,667.88,17.4,667.9,18.25,667.92,17.7,667.95,17.0,667.98,18.1,667.53,17.45,667.57,18.6,667.61,17.25,667.66,17.9,667.71,16.7,667.75,18.2,667.8,17.35,667.84,17.8,667.89,18.4,667.94,17.15,668.0,17.9,668.0,18.9,668.0,18.6,668.0,17.3,668.0,16.6
];

// ---- build tables ----
const toRows = (flat) => { const r = []; for (let i = 0; i < flat.length; i += 2) r.push({x: flat[i], y: flat[i + 1]}); return r; };
const zipXY = (xs, ys) => xs.map((x, i) => ({x, y: ys[i]}));
const points = [...toRows(controlPts), ...toRows(controlCore), ...toRows(treatPts), ...toRows(treatCore)];
const ctrlFit = zipXY(ctrlFitX, ctrlFitY);
const treatFit = zipXY(treatFitX, treatFitY);
const ctrlLin = zipXY(ctrlLinX, ctrlLinY);
const treatLin = zipXY(treatLinX, treatLinY);

const serif = "'Liberation Serif', 'Times New Roman', serif";
const cjk = "'Noto Sans CJK SC', sans-serif";
const axisGray = "#a6a6a6";
const gridGray = "#c4c4c4";
const dotGray = "#a9a9a9";

const chart = Plot.plot({
  width: 1703,
  height: 1102,
  marginLeft: 162,
  marginRight: 34,
  marginTop: 173,
  marginBottom: 200,
  style: {fontFamily: serif, fontSize: "31px", color: "#000", background: "#fff"},
  x: {domain: [xTicks[0], xTicks[2]], label: null},
  y: {domain: [yTicks[0], yTicks[yTicks.length - 1]], label: null},
  marks: [
    Plot.gridY({ticks: yTicks, stroke: gridGray, strokeOpacity: 1, strokeWidth: 1.4, strokeDasharray: "1.6,7.4", insetLeft: -21, insetRight: -25}),
    Plot.gridX({ticks: [xTicks[0], xTicks[2]], stroke: gridGray, strokeOpacity: 1, strokeWidth: 1.4, strokeDasharray: "1.6,7.4", insetTop: -168, insetBottom: -18}),
    Plot.ruleX([cutoff], {stroke: "#8a8a8a", strokeWidth: 2.4, strokeDasharray: "32,5,3,5", insetTop: -168, insetBottom: -41}),
    Plot.dot(points, {x: "x", y: "y", r: 3.4, fill: dotGray, stroke: "none"}),
    Plot.line(ctrlLin, {x: "x", y: "y", stroke: "#0000ff", strokeWidth: 3.2, strokeDasharray: "22,11"}),
    Plot.line(treatLin, {x: "x", y: "y", stroke: "#0000ff", strokeWidth: 3.2, strokeDasharray: "22,11"}),
    Plot.line(ctrlFit, {x: "x", y: "y", stroke: "#ff0000", strokeWidth: 3.2, curve: "monotone-x"}),
    Plot.line(treatFit, {x: "x", y: "y", stroke: "#ff0000", strokeWidth: 3.2, curve: "monotone-x"}),
    // y axis
    Plot.ruleX([xTicks[0]], {y1: yTicks[0], y2: yTicks[yTicks.length - 1], dx: -27, stroke: axisGray, strokeWidth: 2.2}),
    Plot.axisY({ticks: yTicks, label: null, tickSize: 15, tickPadding: 7, dx: -27, stroke: axisGray, strokeWidth: 2.2, fill: "#000", fontSize: 31, tickFormat: d => String(d)}),
    // x axis
    Plot.ruleY([yTicks[0]], {x1: xTicks[0], x2: xTicks[2], dy: 27, stroke: axisGray, strokeWidth: 2.5}),
    Plot.axisX({ticks: xTicks, label: null, tickSize: 14, tickPadding: 18, dy: 27, stroke: axisGray, strokeWidth: 2.2, fill: "#000", fontSize: 31, tickFormat: d => xTickLabels[xTicks.indexOf(d)]}),
    // group labels
    Plot.text([groupLabels[0]], {text: d => d, frameAnchor: "top", lineAnchor: "middle", dx: -300, dy: -91, fontSize: 41, fontFamily: serif, fill: "#000"}),
    Plot.text([groupLabels[1]], {text: d => d, frameAnchor: "top", lineAnchor: "middle", dx: 304, dy: -91, fontSize: 41, fontFamily: serif, fill: "#000"}),
    // axis titles
    Plot.text([yTitle], {text: d => d, frameAnchor: "left", textAnchor: "middle", lineAnchor: "middle", rotate: -90, dx: -126, dy: -76, fontSize: 41, fontFamily: cjk, fill: "#111"}),
    Plot.text([xTitle], {text: d => d, frameAnchor: "bottom-right", textAnchor: "end", lineAnchor: "middle", dx: 3, dy: 173, fontSize: 42, fontFamily: cjk, fill: "#111"})
  ]
});
document.getElementById("chart").appendChild(chart);
</script>
</body>
</html>
